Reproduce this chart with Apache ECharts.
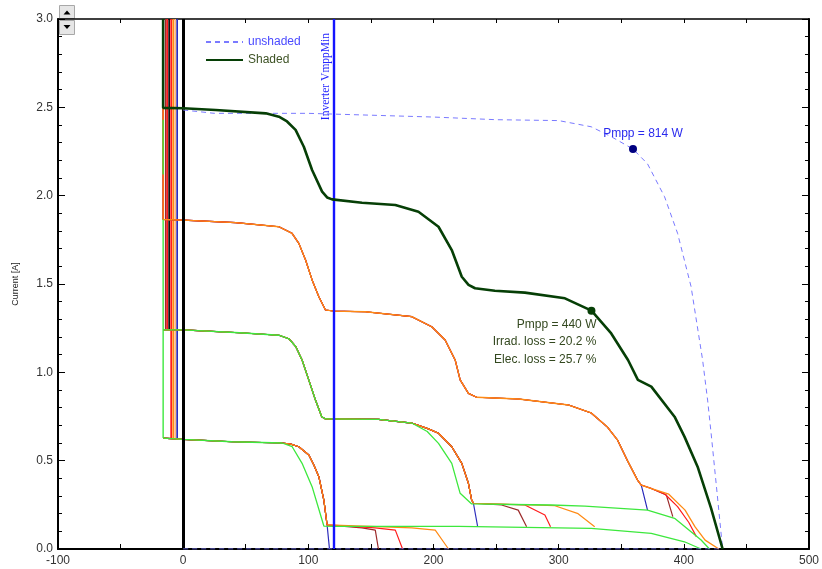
<!DOCTYPE html>
<html>
<head>
<meta charset="utf-8">
<script src="https://cdn.jsdelivr.net/npm/echarts@6/dist/echarts.min.js"></script>
<style>html,body{margin:0;padding:0;background:#fff;}#c{width:822px;height:569px;}</style>
</head>
<body>
<div id="c"></div>
<script>
// ---------- data (V [V], I [A]) ----------
const xTicksLabelled = [-100, 0, 100, 200, 300, 400, 500];
const yTicks = [0, 0.5, 1.0, 1.5, 2.0, 2.5, 3.0];

const shadedCurve = [[-16,3.0],[-16,2.497],[0,2.495],[26,2.485],[66,2.466],[76.5,2.447],[83,2.42],[89.8,2.372],[96.4,2.277],[103,2.145],[111,2.023],[115,1.99],[119,1.979],[142.9,1.96],[169.5,1.947],[188,1.909],[204,1.824],[214.6,1.692],[222.6,1.541],[228,1.495],[233.2,1.476],[249,1.462],[273,1.451],[305,1.419],[326.2,1.349],[342,1.22],[355.4,1.07],[363.3,0.957],[374,0.919],[392.6,0.749],[400.5,0.636],[411,0.466],[421.8,0.23],[431,0]];
const unshadedCurve = [[0,2.485],[25,2.466],[100,2.466],[200,2.445],[250,2.43],[300,2.425],[326,2.39],[342,2.334],[359.4,2.264],[371,2.18],[384.6,1.994],[395,1.787],[405.8,1.485],[415,1.07],[419,0.843],[421.8,0.655],[425.8,0.372],[431,0]];
const unshadedBase = [[0,0],[431,0]];
const pmppUnshaded = [359.4, 2.264];
const pmppShaded = [326.2, 1.349];
const pmppUnshadedText = 'Pmpp = 814 W';
const pmppShadedText = ['Pmpp = 440 W', 'Irrad. loss = 20.2 %', 'Elec. loss = 25.7 %'];
const inverterVmppMin = 120.3;
const inverterText = 'Inverter VmppMin';

// upper staircase (level 1.87 A)
const stairTop = [[-16,3.0],[-16,1.865],[0,1.862],[42,1.847],[76.5,1.824],[87,1.787],[92.4,1.73],[97.8,1.636],[103,1.523],[108.4,1.428],[113.7,1.353],[120,1.347],[145.6,1.343],[182.7,1.315],[198.6,1.258],[209.3,1.183],[217.3,1.07],[221.3,0.957],[227.9,0.881],[234.5,0.859],[268,0.849],[308,0.815],[326,0.77],[339,0.69],[347,0.617],[355,0.50],[363,0.39],[366,0.362]];
const topTailBlue = [[366,0.362],[371,0.22]];
const topTailDarkRed = [[366,0.362],[373,0.345],[386,0.306],[391.2,0.183]];
const topTailRed = [[366,0.362],[375,0.34],[385,0.31],[395,0.24],[404,0.15],[410,0.07]];
const topTailOrange = [[366,0.362],[373,0.345],[388,0.31],[401,0.22],[409,0.125],[417,0.05],[428,0]];

// middle staircase (level 1.24 A)
const stairMid = [[-16,1.24],[0,1.24],[45,1.224],[76.5,1.21],[84.5,1.19],[90,1.145],[95,1.07],[100.4,0.956],[105.7,0.843],[110.7,0.749],[113.7,0.736],[156,0.734],[182.6,0.713],[196,0.68],[204,0.655],[214.6,0.579],[222.6,0.485],[227.9,0.372],[230.5,0.277],[231.9,0.259]];
const greenMid = [[-16,1.24],[0,1.24],[45,1.224],[76.5,1.21],[84.5,1.19],[90,1.145],[95,1.07],[100.4,0.956],[105.7,0.843],[110.7,0.749],[113.7,0.736],[156,0.734],[182.6,0.713],[195,0.665],[204,0.598],[214.6,0.485],[221.3,0.315],[230.5,0.255],[262,0.252],[294,0.249],[321,0.243],[371,0.22],[392.6,0.174],[413.8,0.051],[420.5,0]];
const midTailBlue = [[231.9,0.259],[235.3,0.126]];
const midTailDarkRed = [[231.9,0.259],[254.4,0.249],[267.7,0.22],[274.4,0.126]];
const midTailRed = [[231.9,0.259],[273,0.249],[289,0.192],[293.5,0.126]];
const midTailOrange = [[231.9,0.259],[297,0.245],[315.5,0.2],[328.8,0.126]];

// lower staircase (level 0.62 A)
const stairLow = [[-16,0.628],[0,0.621],[39,0.607],[79,0.60],[86,0.594],[92.4,0.579],[100.4,0.532],[104.4,0.475],[108.4,0.409],[112.4,0.277],[115,0.136]];
const greenLow = [[-16,0.628],[0,0.621],[39,0.607],[79,0.60],[87.1,0.579],[95,0.485],[103,0.353],[112.4,0.13],[120,0.128],[220,0.128],[326,0.117],[374,0.089],[400.5,0.041],[413.8,0]];
const lowTailBlue = [[115,0.136],[116.9,0]];
const lowTailDarkRed = [[115,0.136],[142.9,0.12],[153.5,0.107],[156,0]];
const lowTailRed = [[115,0.136],[153.5,0.12],[169.5,0.107],[175.3,0]];
const lowTailOrange = [[115,0.136],[182.7,0.12],[201.4,0.107],[212,0]];

// reverse-voltage verticals near -16..-5 V
const vertDarkRed = [[-13.9,3.0],[-13.9,1.24]];
const vertRed1 = [[-12.7,3.0],[-12.7,1.24]];
const vertBlack = [[-11.2,3.0],[-11.2,1.24]];
const vertRed2 = [[-9.6,3.0],[-9.6,0.628]];
const vertOrange = [[-8.0,3.0],[-8.0,0.628]];
const vertLightOrange = [[-6.4,3.0],[-6.4,0.628]];
const vertBlue = [[-4.8,3.0],[-4.8,0.628]];
const vertGreen = [[-16,1.865],[-16,0.628]];
const vertGreenShort = [[-16,2.43],[-16,2.12]];

// ---------- styles ----------
const COL = {orange:'#ff8a14', lorange:'#ffb67a', red:'#ff1c1c', dred:'#9c2a2a', black:'#101010', blue:'#2c2cbc', green:'#3de83d', shaded:'#063f06', unsh:'#7a7aff'};
const FONT = 'Liberation Sans, Arial, sans-serif';

function line(data, color, width, z, extra) {
  return Object.assign({
    type:'line', data:data, showSymbol:false, symbol:'none', silent:true, animation:false,
    lineStyle:{color:color, width:width}, itemStyle:{color:color}, z:z
  }, extra || {});
}
const cat = (a, b) => a.concat(b.slice(1));
const VW = 1.7;

const series = [
  // black V=0 line (under the curves)
  line([], '#000', 1, 1, {markLine:{symbol:['none','none'], silent:true, animation:false, label:{show:false},
     lineStyle:{color:'#000', width:3, type:'solid'}, data:[{xAxis:0}]}}),
  // verticals
  line(vertDarkRed, COL.dred, VW, 2), line(vertRed1, COL.red, VW, 2), line(vertBlack, COL.black, VW, 2),
  line(vertRed2, COL.red, VW, 2), line(vertOrange, COL.orange, VW, 2), line(vertLightOrange, COL.lorange, VW, 2),
  line(vertBlue, COL.blue, VW, 2),
  // lower cluster
  line(cat(stairLow, lowTailBlue), COL.blue, 1.2, 3),
  line(stairLow, COL.black, 1.2, 3),
  line(cat(stairLow, lowTailDarkRed), COL.dred, 1.2, 3),
  line(cat(stairLow, lowTailRed), COL.red, 1.2, 3),
  line(cat(stairLow, lowTailOrange), COL.orange, 1.2, 3),
  // middle cluster
  line(cat(stairMid, midTailBlue), COL.blue, 1.2, 3),
  line(stairMid, COL.black, 1.2, 3),
  line(cat(stairMid, midTailDarkRed), COL.dred, 1.2, 3),
  line(cat(stairMid, midTailRed), COL.red, 1.2, 3),
  line(cat(stairMid, midTailOrange), COL.orange, 1.2, 3),
  // upper cluster
  line(cat(stairTop, topTailBlue), COL.blue, 1.2, 3),
  line(cat(stairTop, topTailDarkRed), COL.dred, 1.2, 3),
  line(cat(stairTop, topTailRed), COL.red, 1.2, 3),
  line(cat(stairTop, topTailOrange), COL.orange, 1.3, 3),
  // green curves on top
  line(vertGreen, COL.green, 1.4, 4), line(vertGreenShort, COL.green, 1.4, 4),
  line(greenMid, COL.green, 1.3, 4), line(greenLow, COL.green, 1.3, 4),
  // unshaded & shaded
  line(unshadedBase, COL.unsh, 1, 5, {lineStyle:{color:COL.unsh, width:1.2, type:[5,4]}}),
  line(unshadedCurve, COL.unsh, 1, 5, {name:'unshaded', lineStyle:{color:COL.unsh, width:1, type:[5,4]}}),
  line(shadedCurve, COL.shaded, 2.6, 6, {name:'Shaded'}),
  // inverter VmppMin line
  line([], '#1414ff', 1, 7, {markLine:{symbol:['none','none'], silent:true, animation:false,
     lineStyle:{color:'#1414ff', width:2.4, type:'solid'}, label:{show:false},
     data:[{xAxis:inverterVmppMin}]}}),
  // Pmpp points
  {type:'scatter', data:[pmppUnshaded], symbol:'circle', symbolSize:8, silent:true, animation:false, z:8,
   itemStyle:{color:'#000080', opacity:1},
   label:{show:true, position:'top', offset:[10,0], formatter:pmppUnshadedText, color:'#2a2aee', fontSize:12, fontFamily:FONT}},
  {type:'scatter', data:[pmppShaded], symbol:'circle', symbolSize:8, silent:true, animation:false, z:8,
   itemStyle:{color:COL.shaded, opacity:1},
   label:{show:true, position:[9,9], align:'right', verticalAlign:'top', lineHeight:17.5,
          formatter:pmppShadedText.join('\n'), color:'#33481f', fontSize:12, fontFamily:FONT}}
];

const buttons = {type:'group', left:59, top:5, children:[
  {type:'rect', shape:{x:0, y:0, width:15, height:13}, style:{fill:'#e6e6e6', stroke:'#a8a8a8', lineWidth:1}},
  {type:'polygon', shape:{points:[[4,9],[11,9],[7.5,5]]}, style:{fill:'#000'}},
  {type:'rect', shape:{x:0, y:15, width:15, height:14}, style:{fill:'#e6e6e6', stroke:'#a8a8a8', lineWidth:1}},
  {type:'polygon', shape:{points:[[4,19.5],[11,19.5],[7.5,23.5]]}, style:{fill:'#000'}}
]};

const chart = echarts.init(document.getElementById('c'), null, {renderer:'canvas'});
chart.setOption({
  animation:false,
  backgroundColor:'#fff',
  grid:{left:58, right:10, top:19, bottom:20, containLabel:false},
  legend:{data:[{name:'unshaded', textStyle:{color:'#4a4aff'}}, {name:'Shaded', textStyle:{color:'#3d5224'}}],
          orient:'vertical', left:205, top:36, padding:0, itemWidth:37, itemHeight:14, itemGap:6,
          itemStyle:{color:'rgba(0,0,0,0)', borderColor:'rgba(0,0,0,0)', borderWidth:0},
          textStyle:{fontSize:12, fontFamily:FONT}, selectedMode:false},
  xAxis:[
    {type:'value', min:-100, max:500, interval:50, position:'bottom',
     axisLine:{show:true, onZero:false, lineStyle:{color:'#000', width:2}},
     axisTick:{show:true, inside:true, length:5, lineStyle:{color:'#000', width:1}},
     axisLabel:{show:true, margin:6, color:'#333', fontSize:12, fontFamily:FONT,
                formatter:function(v){ return xTicksLabelled.indexOf(v) >= 0 ? String(v) : ''; }},
     splitLine:{show:false}},
    {type:'value', min:-100, max:500, interval:50, position:'top',
     axisLine:{show:true, onZero:false, lineStyle:{color:'#000', width:1.5}},
     axisTick:{show:true, inside:true, length:4, lineStyle:{color:'#000', width:1}},
     axisLabel:{show:false}, splitLine:{show:false}}
  ],
  yAxis:[
    {type:'value', min:0, max:3, interval:0.5, position:'left',
     name:'Current [A]', nameLocation:'middle', nameGap:38, nameRotate:90,
     nameTextStyle:{fontSize:9, color:'#222', fontFamily:FONT},
     axisLine:{show:true, onZero:false, lineStyle:{color:'#000', width:2}},
     axisTick:{show:true, inside:true, length:7, lineStyle:{color:'#000', width:1}},
     minorTick:{show:true, splitNumber:5, length:4, lineStyle:{color:'#000', width:1}},
     axisLabel:{show:true, margin:5, color:'#333', fontSize:12, fontFamily:FONT,
                formatter:function(v){ return yTicks.indexOf(v) >= 0 ? v.toFixed(1) : ''; }},
     splitLine:{show:false}},
    {type:'value', min:0, max:3, interval:0.5, position:'right',
     axisLine:{show:true, onZero:false, lineStyle:{color:'#000', width:2}},
     axisTick:{show:true, inside:true, length:7, lineStyle:{color:'#000', width:1}},
     minorTick:{show:true, splitNumber:5, length:4, lineStyle:{color:'#000', width:1}},
     axisLabel:{show:false}, splitLine:{show:false}}
  ],
  series:series,
  graphic:[buttons]
});

// "Inverter VmppMin" caption placed beside the line using the axis scale
const invPx = chart.convertToPixel({xAxisIndex:0}, inverterVmppMin);
const topPx = chart.convertToPixel({yAxisIndex:0}, 3.0);
chart.setOption({graphic:[
  buttons,
  {type:'text', x:invPx - 8, y:topPx + 14, rotation:Math.PI/2, z:20, silent:true,
   style:{text:inverterText, fill:'#2424ff', font:'11.5px "Liberation Serif", "Times New Roman", serif',
          textAlign:'right', textVerticalAlign:'middle'}}
]});
</script>
</body>
</html>
